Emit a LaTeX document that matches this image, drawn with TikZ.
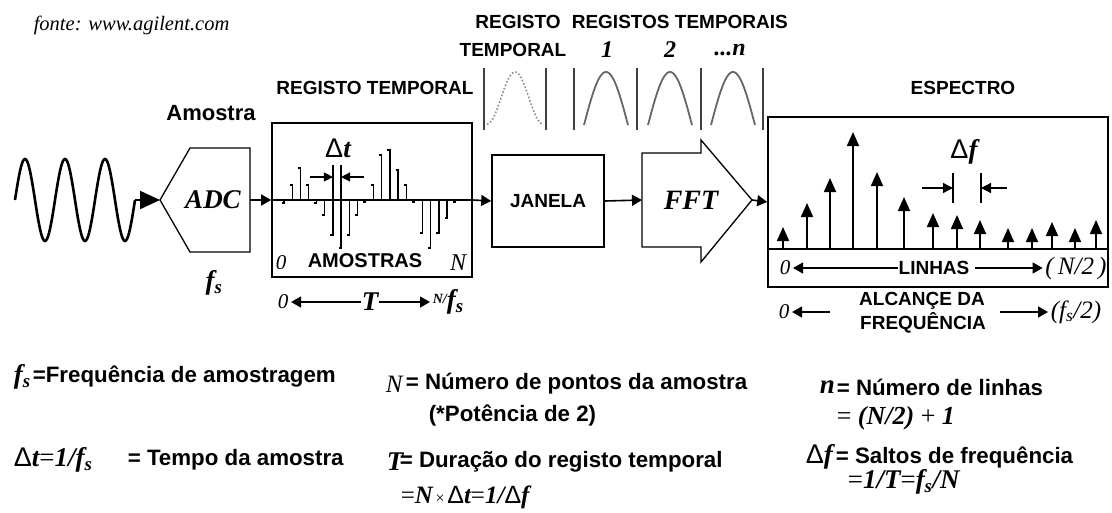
\documentclass[tikz,border=0pt]{standalone}
\usepackage{fontspec}
\setmainfont{Liberation Sans}
\newfontfamily\serf{Liberation Serif}
\usetikzlibrary{arrows.meta,positioning,calc}

\newcommand{\Dl}{{\normalfont Δ}}
\newcommand{\fsym}{f\textsubscript{s}}

\begin{document}
\begin{tikzpicture}[x=1pt, y=-1pt, line width=1.6pt,
  >={Triangle[length=10pt,width=11pt]},
  lbl/.style={font=\fontsize{19}{21}\selectfont\bfseries, inner sep=0pt},
  leg/.style={font=\fontsize{22.3}{24}\selectfont\bfseries, inner sep=0pt, anchor=west},
  mth/.style={font=\serf\fontsize{27}{29}\selectfont\bfseries\itshape, inner sep=0pt},
  num/.style={font=\serf\fontsize{21}{23}\selectfont\itshape, inner sep=0pt},
  blk/.style={draw, line width=1.6pt},
  win/.style={line width=1.8pt, black!60},
  stem/.style={line width=1.3pt},
  spk/.style={line width=1.8pt, -{Triangle[length=14pt,width=12pt]}},
  axr/.style={line width=1.3pt, ->, shorten >=2pt}
]
  \useasboundingbox (0,0) rectangle (1112,512);
  \node[font=\serf\fontsize{20.5}{22}\selectfont\itshape, inner sep=0pt, anchor=west] (src) at (33,25) {fonte: www.agilent.com};

  % input signal
  \draw[line width=2.6pt, domain=15:135, samples=121] plot (\x, {200-41*sin(9*(\x-15))});
  \coordinate (waveend) at (135,200);

  % block : ADC
  \coordinate (adcin) at (160,200);
  \coordinate (adcout) at (250,200);
  \draw[line width=1.3pt] (adcin) -- (190,148) -- (250,148) -- (250,252) -- (190,252) -- cycle;
  \node[mth] (adc) at (213,200) {ADC};
  \node[mth] (fsadc) at (214,283) {\fsym};
  \node[lbl, font=\fontsize{22}{24}\selectfont\bfseries] (amostra) at (211,113) {Amostra};
  \draw[line width=2.2pt, -{Triangle[length=20pt,width=18pt]}] (waveend) -- (adcin);

  % block : time record
  \node[blk, minimum width=200pt, minimum height=154pt] (reg) at (372,200) {};
  \node[lbl] (regtit) at (375,88) {REGISTO TEMPORAL};
  \draw[->] (adcout) -- (reg.west);
  \draw[stem] (reg.west) -- (reg.east);
  \foreach \h [count=\i from 0] in {-3,15,32,15,-3,-15,-35,-48,-35,-15,-2,15,45,50,30,15,-2,-33,-48,-33,-18,-2}
    \draw[stem] (284+8.15*\i,200) -- ++(0,{-(\h)}) -- ++(-2.5,0);
  \coordinate (dtl) at (332.9,200);
  \coordinate (dtr) at (341.05,200);
  \draw[stem] (dtl) -- ++(0,-35);
  \draw[stem] (dtr) -- ++(0,-35);
  \coordinate (dtla) at (310,177);
  \coordinate (dtra) at (364,177);
  \draw[stem, -{Triangle[length=9pt,width=9pt]}] (dtla) -- (dtla -| dtl);
  \draw[stem, -{Triangle[length=9pt,width=9pt]}] (dtra) -- (dtra -| dtr);
  \node[mth] (dt) at (338,148) {\Dl t};
  \node[num] (z1) at (281,263) {0};
  \node[lbl, font=\fontsize{20}{22}\selectfont\bfseries] (amo) at (365,261) {AMOSTRAS};
  \node[num, font=\serf\fontsize{24}{26}\selectfont\itshape] (nn) at (458,263) {N};
  \node[num] (z2) at (283,302) {0};
  \node[mth] (tt) at (370,302) {T};
  \node[mth, anchor=west] (nfs) at (432,302) {\raisebox{0.45ex}{\fontsize{14}{14}\selectfont N/}\fsym};
  \draw[axr] (tt.west) -- (z2.east);
  \draw[axr] (tt.east) -- (nfs.west);

  % block : window
  \node[blk, lbl, minimum width=112pt, minimum height=92pt] (jan) at (548,201) {JANELA};
  \draw[->] (reg.east) -- (jan.west);
  \node[lbl] (rt1) at (518,22) {REGISTO};
  \node[lbl] (rt2) at (513,50) {TEMPORAL};
  \node[lbl, anchor=west] (rts) at (571,22) {REGISTOS TEMPORAIS};
  \node[mth, font=\serf\fontsize{24}{26}\selectfont\bfseries\itshape] (w1) at (607,50) {1};
  \node[mth, font=\serf\fontsize{24}{26}\selectfont\bfseries\itshape] (w2) at (670,50) {2};
  \node[mth, font=\serf\fontsize{24}{26}\selectfont\bfseries\itshape] (wn) at (730,50) {...n};
  \foreach \x in {484,546,574,637,701,763}
    \draw[line width=1.6pt, black!75] (\x,68) -- (\x,130);
  \draw[black!45, dotted, line width=1.6pt, domain=0:1, samples=60]
    plot ({487+56*\x}, {124-52*(0.5-0.5*cos(360*\x))});
  \foreach \c in {606,670,733}
    \draw[win, domain=0:180, samples=40] plot ({\c-22+44*\x/180}, {125-53*sin(\x)});

  % block : FFT
  \coordinate (fftin) at (642,200);
  \coordinate (fftout) at (752,200);
  \draw[line width=1.3pt] (fftin) -- (642,153) -- (701,153) -- (701,140) -- (fftout)
    -- (701,262) -- (701,247) -- (642,247) -- cycle;
  \node[mth, font=\serf\fontsize{28}{30}\selectfont\bfseries\itshape] (fft) at (691,200) {FFT};
  \draw[->] (jan.east) -- (fftin);

  % block : spectrum
  \node[blk, minimum width=340pt, minimum height=170pt] (spec) at (938,202) {};
  \draw[->] (fftout) -- (spec.west);
  \node[lbl] (esp) at (963,88) {ESPECTRO};
  \coordinate (sb) at (768,249);
  \draw[stem] (sb) -- (sb -| spec.east);
  \foreach \x/\t in {783/227, 807/203, 830/178, 853/132, 877/172, 904/197, 933/213,
                     957/215, 980/220, 1008/228, 1032/228, 1052/222, 1075/228, 1096/220}
    \draw[spk] (\x,249) -- (\x,\t);
  \draw[stem] (953,173) -- (953,203);
  \draw[stem] (981,173) -- (981,203);
  \coordinate (dfla) at (922,188);
  \coordinate (dfra) at (1007,188);
  \draw[stem, -{Triangle[length=10pt,width=10pt]}] (dfla) -- (953,188);
  \draw[stem, -{Triangle[length=10pt,width=10pt]}] (dfra) -- (981,188);
  \node[mth] (df) at (964,152) {\Dl f};
  \node[num] (z3) at (785,268) {0};
  \node[lbl] (lin) at (934,268) {LINHAS};
  \node[num, font=\serf\fontsize{25}{27}\selectfont\itshape] (n2) at (1076,268) {(\,N/2\,)};
  \draw[axr] (lin.west) -- (z3.east);
  \draw[axr, shorten <=5pt] (lin.east) -- (n2.west);
  \node[lbl] (alc) at (922,301) {ALCANÇE DA};
  \node[lbl] (freq) at (923,323) {FREQUÊNCIA};
  \node[num] (z4) at (784,312) {0};
  \node[mth, font=\serf\fontsize{25}{27}\selectfont\itshape] (fs2) at (1076,312) {({\fsym}/2)};
  \coordinate (alcl) at (830,312);
  \coordinate (alcr) at (1000,312);
  \draw[axr] (alcl) -- (z4.east);
  \draw[axr] (alcr) -- (fs2.west);

  % legend
  \node[mth, anchor=west] (lfs) at (13,377) {\fsym};
  \node[leg] (lfst) at (32,377) {=Frequência de amostragem};
  \node[mth, anchor=west] (ldt) at (13,460) {\Dl t{\mdseries\upshape =}1/\fsym};
  \node[leg] (ldtt) at (127,460) {= Tempo da amostra};
  \node[num, font=\serf\fontsize{25}{27}\selectfont\itshape, anchor=west] (lN) at (385,384) {N};
  \node[leg] (lNt) at (405,384) {= Número de pontos da amostra};
  \node[leg] (lNp) at (428,415) {(*Potência de 2)};
  \node[mth, anchor=west] (lT) at (386,462) {T};
  \node[leg] (lTt) at (399,462) {= Duração do registo temporal};
  \node[mth, anchor=west, font=\serf\fontsize{25}{27}\selectfont\bfseries\itshape] (lTe) at (400,497)
    {{\mdseries\upshape=}N{\mdseries\upshape\fontsize{16}{16}\selectfont\,×\,}\Dl t{\mdseries\upshape=}1/\Dl f};
  \node[mth, anchor=west] (ln) at (819,387) {n};
  \node[leg] (lnt) at (836,387) {= Número de linhas};
  \node[mth, anchor=west, font=\serf\fontsize{26}{28}\selectfont\bfseries\itshape] (lne) at (836,418) {{\mdseries\upshape=} (N/2) {\mdseries\upshape+} 1};
  \node[mth, anchor=west] (ldf) at (805,457) {\Dl f};
  \node[leg] (ldft) at (835,457) {= Saltos de frequência};
  \node[mth, anchor=west] (ldfe) at (847,482) {{\mdseries\upshape=}1/T{\mdseries\upshape=}\fsym/N};
\end{tikzpicture}
\end{document}
